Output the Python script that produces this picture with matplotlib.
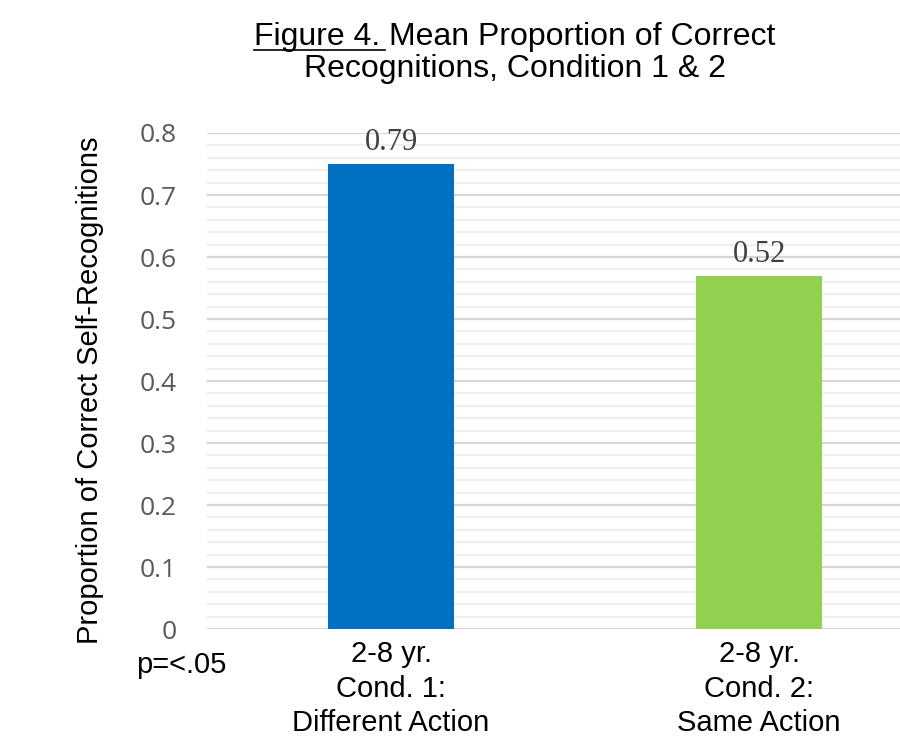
import matplotlib
matplotlib.use("Agg")
import matplotlib.pyplot as plt
from matplotlib.lines import Line2D
import numpy as np

categories = ["2-8 yr.\nCond. 1:\nDifferent Action", "2-8 yr.\nCond. 2:\nSame Action"]
bar_values = [0.75, 0.57]
data_labels = ["0.79", "0.52"]
bar_colors = ["#0070C0", "#92D050"]
yticks = [0, 0.1, 0.2, 0.3, 0.4, 0.5, 0.6, 0.7, 0.8]
ytick_labels = ["0", "0.1", "0.2", "0.3", "0.4", "0.5", "0.6", "0.7", "0.8"]
title_part1 = "Figure 4. "
title_part2 = "Mean Proportion of Correct"
title_line2 = "Recognitions, Condition 1 & 2"
ylabel = "Proportion of Correct Self-Recognitions"
note = "p=<.05"

SANS = ["Liberation Sans", "DejaVu Sans"]
TICKF = ["Open Sans", "DejaVu Sans"]
SERIF = ["Liberation Serif", "DejaVu Serif"]

fig = plt.figure(figsize=(9, 7.43), dpi=100)
ax = fig.add_axes([0.23, 0.1534, 0.77, 0.6676])

x = np.arange(len(categories))
ax.bar(x, bar_values, width=0.34, color=bar_colors, zorder=3)
ax.set_xlim(-0.5, 1.383)
ax.set_ylim(0, 0.8)

# gridlines
ax.set_yticks(yticks)
ax.set_yticks(np.arange(0, 0.8001, 0.02), minor=True)
ax.yaxis.grid(True, which="major", color="#D6D6D6", linewidth=1.6, zorder=1)
ax.yaxis.grid(True, which="minor", color="#EFEFEF", linewidth=1.5, zorder=0)
ax.set_yticklabels(ytick_labels, fontsize=19, family=TICKF, color="#595959")
ax.tick_params(axis="y", which="both", length=0, pad=22)
ax.set_xticks(x)
ax.set_xticklabels(categories, fontsize=21, family=SANS, color="#000000", linespacing=1.3)
ax.tick_params(axis="x", length=0, pad=8)
for s in ax.spines.values():
    s.set_visible(False)
ax.set_axisbelow(True)

for xi, v, lab in zip(x, bar_values, data_labels):
    ax.annotate(lab, (xi, v), xytext=(0, 5), textcoords="offset points",
                ha="center", va="bottom", fontsize=22, family=SERIF, color="#404040")

fig.text(90 / 900, 1 - 390 / 743, ylabel, rotation=90, ha="center", va="center",
         fontsize=21, family=SANS, color="#000000")
fig.text(181 / 900, 1 - 665 / 743, note, ha="center", va="center",
         fontsize=21, family=SANS, color="#000000")

# title with underlined first part
fig.canvas.draw()
r = fig.canvas.get_renderer()
tsize = 23
y1 = 1 - 37 / 743
t1 = fig.text(0, y1, title_part1, ha="left", va="center", fontsize=tsize, family=SANS)
t2 = fig.text(0, y1, title_part2, ha="left", va="center", fontsize=tsize, family=SANS)
w1 = t1.get_window_extent(r).width
w2 = t2.get_window_extent(r).width
W = fig.bbox.width
cx = 515
start = cx - (w1 + w2) / 2
t1.set_x(start / W)
t2.set_x((start + w1) / W)
uy = (743 - 37 - 13) / 743
fig.add_artist(Line2D([start / W, (start + w1 - 4) / W], [uy, uy], transform=fig.transFigure,
                      color="black", linewidth=1.2))
fig.text(cx / W, 1 - 69 / 743, title_line2, ha="center", va="center", fontsize=tsize, family=SANS)

fig.savefig("out.png", dpi=100)
